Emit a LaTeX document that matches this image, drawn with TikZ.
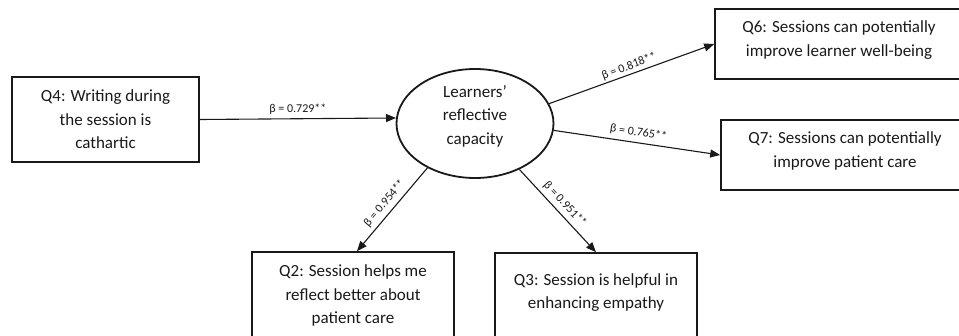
\documentclass[tikz,border=0pt]{standalone}
\usepackage{fontspec}
\setmainfont{Carlito}
\usetikzlibrary{shapes.geometric,arrows.meta}
\begin{document}
\begin{tikzpicture}[x=1pt,y=-1pt,
  every node/.style={font=\fontsize{17}{23.5}\selectfont, text=black!90},
  qbox/.style={draw=black!90, line width=1.6pt, rectangle, align=center, inner sep=0pt},
  latent/.style={draw=black!90, line width=1.8pt, ellipse, minimum width=157pt, minimum height=109pt, inner sep=0pt},
  link/.style={draw=black!90, line width=1.1pt, -{Triangle[length=10pt,width=8pt]}},
  beta/.style={font=\fontsize{12}{14}\selectfont, inner sep=1pt},
]
\useasboundingbox (0,0) rectangle (959,335);
\clip (0,0) rectangle (959,335);

% observed items
\node[qbox, minimum width=187pt, minimum height=85pt] (q4) at (105.5,119.5)
  {Q4: Writing during\\the session is\\cathartic};
\node[qbox, minimum width=248pt, minimum height=70pt, text depth=11pt] (q6) at (839,44)
  {Q6: Sessions can potentially\\improve learner well-being};
\node[qbox, minimum width=248pt, minimum height=70pt, text depth=11pt] (q7) at (845,155)
  {Q7: Sessions can potentially\\improve patient care};
\node[qbox, minimum width=202pt, minimum height=87pt] (q2) at (353,295.5)
  {Q2: Session helps me\\reflect better about\\patient care};
\node[qbox, minimum width=202pt, minimum height=87pt, text depth=11pt] (q3) at (596,296.5)
  {Q3: Session is helpful in\\enhancing empathy};

% latent construct
\node[latent] (ell) at (475,123.5) {};
\node[align=center] (elltext) at (475,116) {Learners’\\reflective\\capacity};

% paths with standardised coefficients
\draw[link] (q4.east) -- (ell.176)
  node[beta, midway, above=3pt] {β = 0.729**};
\draw[link] (ell.15) -- (q6.west)
  node[beta, midway, sloped, above=1pt] {β = 0.818**};
\draw[link] (ell.-5) -- (q7.west)
  node[beta, midway, sloped, above=3pt] {β = 0.765**};
\draw[link] (ell.-137) -- ([xshift=4pt]q2.north)
  node[beta, midway, sloped, above=3pt] {β = 0.954**};
\draw[link] (ell.-46) -- (q3.north)
  node[beta, midway, sloped, above=3pt] {β = 0.951**};
\end{tikzpicture}
\end{document}
